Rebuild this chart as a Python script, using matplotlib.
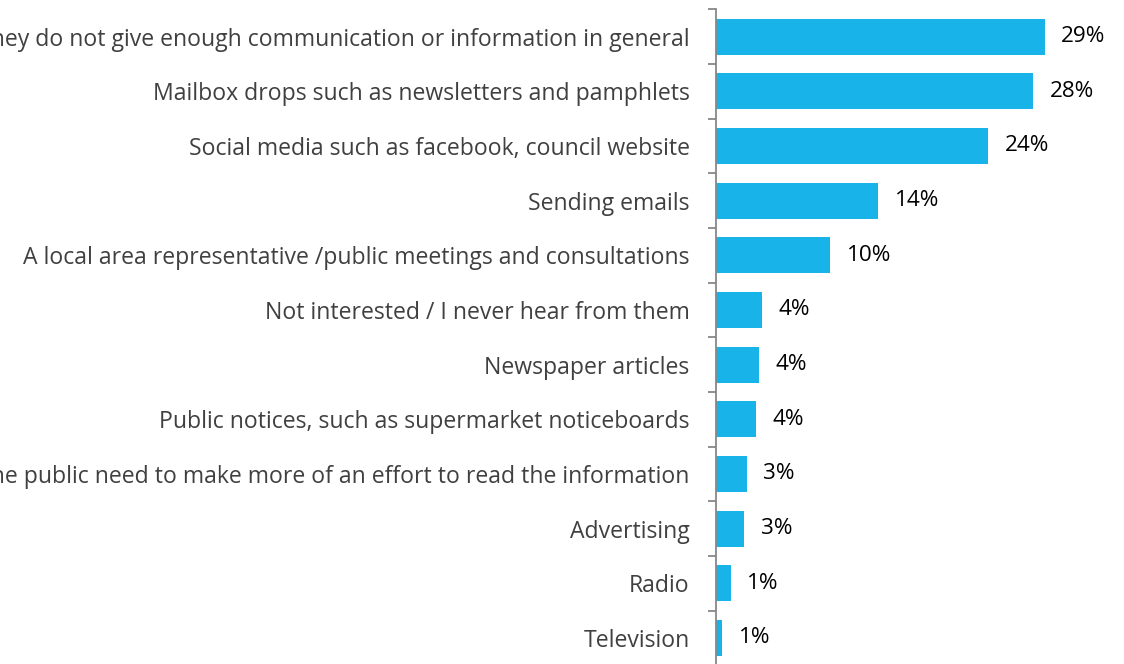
import matplotlib
matplotlib.use('Agg')
import matplotlib.pyplot as plt
import numpy as np

categories = [
    "They do not give enough communication or information in general",
    "Mailbox drops such as newsletters and pamphlets",
    "Social media such as facebook, council website",
    "Sending emails",
    "A local area representative /public meetings and consultations",
    "Not interested / I never hear from them",
    "Newspaper articles",
    "Public notices, such as supermarket noticeboards",
    "The public need to make more of an effort to read the information",
    "Advertising",
    "Radio",
    "Television",
]
values = [29.0, 28.0, 24.0, 14.3, 10.1, 4.1, 3.8, 3.5, 2.7, 2.5, 1.3, 0.55]
value_labels = ["29%", "28%", "24%", "14%", "10%", "4%", "4%", "4%", "3%", "3%", "1%", "1%"]

plt.rcParams['font.family'] = ['Open Sans', 'DejaVu Sans']

fig = plt.figure(figsize=(11.24, 6.64), dpi=100)
ax = fig.add_axes([0.637, -0.002, 0.363, 0.988])

y = np.arange(len(categories))
ax.barh(y, values, height=0.66, color='#18B4E9')
# value labels just right of each bar
for yi, v, lab in zip(y, values, value_labels):
    ax.text(v + 1.45, yi, lab, va='center', ha='left', fontsize=16.2, color='#000000')

ax.set_xlim(0, 36)
ax.set_ylim(len(categories) - 0.5, -0.5)
ax.set_yticks(y)
# the long labels run past the left edge, as in the original
ax.set_yticklabels(categories, fontsize=16.6, color='#404040')
ax.tick_params(axis='y', which='major', length=0, pad=19)
ax.set_yticks(np.arange(-0.5, len(categories), 1), minor=True)
ax.tick_params(axis='y', which='minor', length=6, width=1.3, color='#888888')
ax.set_xticks([])
for s in ['top', 'right', 'bottom']:
    ax.spines[s].set_visible(False)
ax.spines['left'].set_color('#888888')
ax.spines['left'].set_linewidth(1.3)

fig.savefig('out.png', dpi=100)
